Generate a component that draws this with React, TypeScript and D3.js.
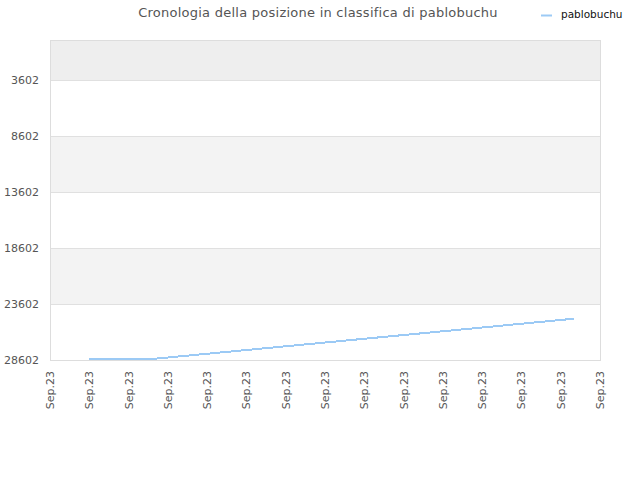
import { useEffect, useRef } from 'react';
import * as d3 from 'd3';

// chart data
const title = 'Cronologia della posizione in classifica di pablobuchu';
const seriesName = 'pablobuchu';
const xTickLabels = [
  'Sep.23', 'Sep.23', 'Sep.23', 'Sep.23', 'Sep.23', 'Sep.23', 'Sep.23', 'Sep.23',
  'Sep.23', 'Sep.23', 'Sep.23', 'Sep.23', 'Sep.23', 'Sep.23', 'Sep.23',
];
const yTicks = [3602, 8602, 13602, 18602, 23602, 28602];
// position along the x axis, measured in tick steps
const pointPos = [1, 2.52, 5.09, 9.67, 13.34];
const pointRank = [28540, 28540, 27680, 26145, 24910];

export default function App() {
  const svgRef = useRef<SVGSVGElement | null>(null);

  useEffect(() => {
    if (!svgRef.current) return;
    const W = 640;
    const H = 480;
    const margin = { top: 40, right: 40, bottom: 120, left: 50 };
    const width = W - margin.left - margin.right;
    const height = H - margin.top - margin.bottom;

    const root = d3.select(svgRef.current);
    root.selectAll('*').remove();
    root.attr('width', W).attr('height', H);

    const x = d3.scaleLinear().domain([0, xTickLabels.length - 1]).range([0, width]);
    const y = d3.scaleLinear().domain([0, 28602]).range([0, height]);

    const g = root.append('g').attr('transform', `translate(${margin.left},${margin.top})`);

    // alternating bands between grid lines
    const edges = [0, ...yTicks];
    const bandFill = ['#eeeeee', '#ffffff', '#f3f3f3', '#ffffff', '#f3f3f3', '#ffffff'];
    g.selectAll('rect.band')
      .data(d3.pairs(edges))
      .join('rect')
      .attr('class', 'band')
      .attr('x', 0)
      .attr('width', width)
      .attr('y', (d) => y(d[0]))
      .attr('height', (d) => y(d[1]) - y(d[0]))
      .attr('fill', (_, i) => bandFill[i]);

    // grid lines
    g.selectAll('line.grid')
      .data(yTicks)
      .join('line')
      .attr('class', 'grid')
      .attr('x1', 0)
      .attr('x2', width)
      .attr('y1', (d) => Math.round(y(d)) + 0.5)
      .attr('y2', (d) => Math.round(y(d)) + 0.5)
      .attr('stroke', '#e0e0e0');

    // frame
    g.append('rect')
      .attr('x', 0.5)
      .attr('y', 0.5)
      .attr('width', width)
      .attr('height', height)
      .attr('fill', 'none')
      .attr('stroke', '#dddddd');

    // y labels
    g.selectAll('text.ylab')
      .data(yTicks)
      .join('text')
      .attr('class', 'ylab')
      .attr('x', -11)
      .attr('y', (d) => y(d) + 4)
      .attr('text-anchor', 'end')
      .attr('font-family', 'DejaVu Sans, sans-serif')
      .attr('font-size', 11)
      .attr('fill', '#555')
      .text((d) => d);

    // x labels
    g.selectAll('text.xlab')
      .data(xTickLabels)
      .join('text')
      .attr('class', 'xlab')
      .attr('transform', (_, i) => `translate(${x(i) + 4},${height + 11}) rotate(-90)`)
      .attr('text-anchor', 'end')
      .attr('font-family', 'DejaVu Sans, sans-serif')
      .attr('font-size', 11)
      .attr('fill', '#555')
      .text((d) => d);

    // series line
    const line = d3
      .line<number>()
      .x((_, i) => x(pointPos[i]))
      .y((d) => y(d));
    g.append('path')
      .datum(pointRank)
      .attr('d', line)
      .attr('fill', 'none')
      .attr('stroke', '#9ccaf5')
      .attr('stroke-width', 2)
      .attr('shape-rendering', 'crispEdges');

    // title
    root
      .append('text')
      .attr('x', 318)
      .attr('y', 17)
      .attr('text-anchor', 'middle')
      .attr('font-family', 'DejaVu Sans, sans-serif')
      .attr('font-size', 13)
      .attr('letter-spacing', 0.25)
      .attr('fill', '#555')
      .text(title);

    // legend
    root
      .append('line')
      .attr('x1', 541)
      .attr('x2', 552)
      .attr('y1', 15.5)
      .attr('y2', 15.5)
      .attr('stroke', '#9ccaf5')
      .attr('stroke-width', 2);
    root
      .append('text')
      .attr('x', 561)
      .attr('y', 18)
      .attr('font-family', 'DejaVu Sans, sans-serif')
      .attr('font-size', 10.5)
      .attr('fill', '#111')
      .text(seriesName);
  }, []);

  return <svg ref={svgRef} style={{ position: 'absolute', left: 0, top: 0 }}></svg>;
}
